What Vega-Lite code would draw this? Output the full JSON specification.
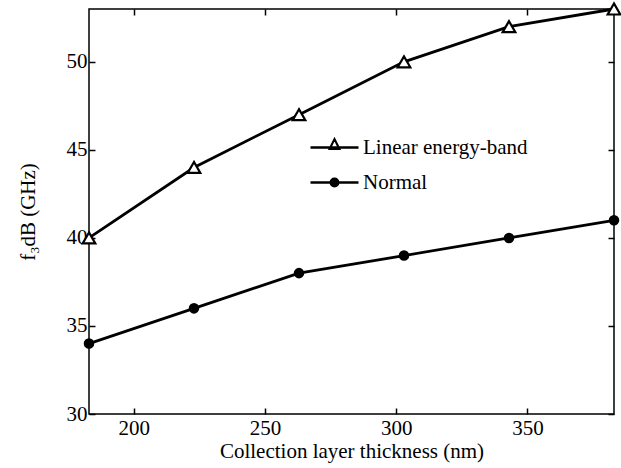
{
  "$schema": "https://vega.github.io/schema/vega-lite/v6.json",
  "width": 525,
  "height": 405,
  "autosize": "none",
  "padding": {"left": 89, "top": 9, "right": 7, "bottom": 54},
  "background": "white",
  "config": {
    "view": {"stroke": "black", "strokeWidth": 1.5},
    "font": "Liberation Serif",
    "axis": {
      "labelFont": "Liberation Serif", "labelFontSize": 21, "labelColor": "black",
      "titleFont": "Liberation Serif", "titleFontSize": 21, "titleFontWeight": "normal", "titleColor": "black",
      "grid": false, "domain": false, "tickColor": "black", "tickWidth": 1.5, "tickSize": -6
    }
  },
  "data": {
    "values": [
      {"thickness": 183, "f3dB": 40, "series": "Linear energy-band"},
      {"thickness": 223, "f3dB": 44, "series": "Linear energy-band"},
      {"thickness": 263, "f3dB": 47, "series": "Linear energy-band"},
      {"thickness": 303, "f3dB": 50, "series": "Linear energy-band"},
      {"thickness": 343, "f3dB": 52, "series": "Linear energy-band"},
      {"thickness": 383, "f3dB": 53, "series": "Linear energy-band"},
      {"thickness": 183, "f3dB": 34, "series": "Normal"},
      {"thickness": 223, "f3dB": 36, "series": "Normal"},
      {"thickness": 263, "f3dB": 38, "series": "Normal"},
      {"thickness": 303, "f3dB": 39, "series": "Normal"},
      {"thickness": 343, "f3dB": 40, "series": "Normal"},
      {"thickness": 383, "f3dB": 41, "series": "Normal"}
    ]
  },
  "layer": [
    {
      "mark": {"type": "line", "color": "black", "strokeWidth": 2.8},
      "encoding": {
        "x": {"field": "thickness", "type": "quantitative",
              "scale": {"domain": [183, 383], "nice": false, "zero": false},
              "axis": {"orient": "bottom", "values": [200, 250, 300, 350], "title": "Collection layer thickness (nm)", "labelPadding": 9, "titlePadding": 2}},
        "y": {"field": "f3dB", "type": "quantitative",
              "scale": {"domain": [30, 53], "nice": false, "zero": false},
              "axis": {"orient": "left", "values": [30, 35, 40, 45, 50], "title": "f₃dB (GHz)", "labelPadding": 8, "titlePadding": 28}},
        "detail": {"field": "series"}
      }
    },
    {
      "mark": {"type": "point", "filled": true, "stroke": "black", "strokeWidth": 2.2, "opacity": 1},
      "encoding": {
        "x": {"field": "thickness", "type": "quantitative",
              "axis": {"orient": "top", "values": [200, 250, 300, 350], "labels": false, "title": null}},
        "y": {"field": "f3dB", "type": "quantitative",
              "axis": {"orient": "right", "values": [30, 35, 40, 45, 50], "labels": false, "title": null}},
        "shape": {"condition": {"test": "datum.series === 'Normal'", "value": "circle"}, "value": "triangle-up"},
        "size": {"condition": {"test": "datum.series === 'Normal'", "value": 70}, "value": 160},
        "fill": {"condition": {"test": "datum.series === 'Normal'", "value": "black"}, "value": "white"},
        "color": {"value": "black"}
      }
    },
    {
      "transform": [{"filter": "false"}],
      "mark": {"type": "point", "filled": true, "fill": "white", "stroke": "black", "strokeWidth": 2.6, "opacity": 1},
      "encoding": {
        "x": {"field": "thickness", "type": "quantitative", "axis": null},
        "y": {"field": "f3dB", "type": "quantitative", "axis": null},
        "shape": {"field": "series", "type": "nominal",
                  "scale": {"domain": ["Linear energy-band", "Normal"],
                            "range": ["M-4,-0.1H4M-4,0H4M-4,0.1H4M-0.9,0.3L0,-1.5L0.9,0.3ZM-0.75,0.22L0,-1.3L0.75,0.22Z",
                                      "M-4,-0.1H4M-4,0H4M-4,0.1H4M-0.7,0A0.7,0.7 0 1,0 0.7,0A0.7,0.7 0 1,0 -0.7,0ZM-0.5,0A0.5,0.5 0 1,0 0.5,0A0.5,0.5 0 1,0 -0.5,0ZM-0.3,0A0.3,0.3 0 1,0 0.3,0A0.3,0.3 0 1,0 -0.3,0ZM-0.12,0A0.12,0.12 0 1,0 0.12,0A0.12,0.12 0 1,0 -0.12,0Z"]},
                  "legend": {
                    "title": null, "orient": "none", "legendX": 235, "legendY": 128,
                    "padding": 0, "symbolSize": 144, "labelOffset": 18, "rowPadding": 13, "labelLimit": 400,
                    "labelFont": "Liberation Serif", "labelFontSize": 21, "labelColor": "black"
                  }}
      }
    }
  ],
  "resolve": {"axis": {"x": "independent", "y": "independent"}}
}
